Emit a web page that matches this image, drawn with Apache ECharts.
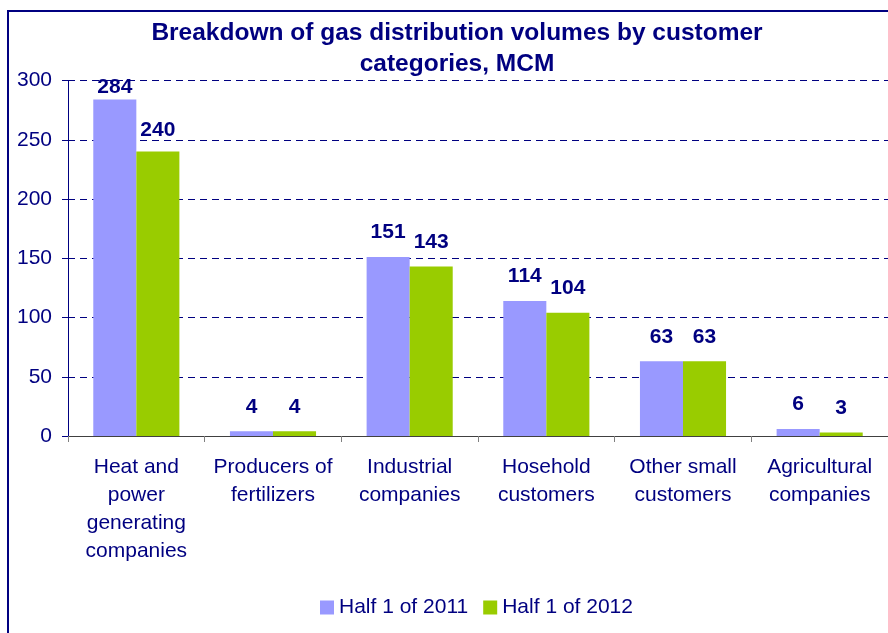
<!DOCTYPE html>
<html>
<head>
<meta charset="utf-8">
<script src="https://cdn.jsdelivr.net/npm/echarts@6/dist/echarts.min.js"></script>
<style>html,body{margin:0;padding:0;background:#fff;}#c{width:888px;height:633px;}</style>
</head>
<body>
<div id="c"></div>
<script>
const categories = ["Heat and\npower\ngenerating\ncompanies", "Producers of\nfertilizers", "Industrial\ncompanies", "Hosehold\ncustomers", "Other small\ncustomers", "Agricultural\ncompanies"];
const seriesNames = ["Half 1 of 2011", "Half 1 of 2012"];
const values2011 = [284, 4, 151, 114, 63, 6];
const values2012 = [240, 4, 143, 104, 63, 3];
const yTicks = [0, 50, 100, 150, 200, 250, 300];

const NAVY = '#000080';
const FONT = 'Liberation Sans, Arial, sans-serif';
const chart = echarts.init(document.getElementById('c'));
const labelCfg = {show: true, position: 'top', distance: 14, color: NAVY, fontFamily: FONT, fontSize: 21, fontWeight: 'bold'};
const yMax = yTicks[yTicks.length - 1];
// labels near the top of the plot are squeezed down (as in the reference)
function withLabels(vals) {
  return vals.map(v => {
    const room = (yMax - v) / yMax * 355.5;
    const d = Math.max(2, Math.min(14, room - 60));
    return {value: v, label: {distance: d}};
  });
}
chart.setOption({
  animation: false,
  backgroundColor: '#fff',
  title: {
    text: 'Breakdown of gas distribution volumes by customer\ncategories, MCM',
    left: 452, top: 13, textAlign: 'center',
    textStyle: {color: NAVY, fontFamily: FONT, fontSize: 24.5, fontWeight: 'bold', lineHeight: 31}
  },
  graphic: [{
    type: 'rect', shape: {x: 8, y: 11, width: 1200, height: 1200},
    style: {fill: 'none', stroke: NAVY, lineWidth: 2}, silent: true, z: 100
  }],
  legend: {
    left: 315, top: 592, itemWidth: 14, itemHeight: 14, itemGap: 15, icon: 'rect',
    textStyle: {color: NAVY, fontFamily: FONT, fontSize: 21},
    data: seriesNames
  },
  grid: {left: 68, right: 0, top: 80.5, bottom: 197, containLabel: false},
  xAxis: {
    type: 'category', data: categories,
    axisLine: {lineStyle: {color: '#404040', width: 1}},
    axisTick: {show: true, length: 6, lineStyle: {color: '#808080'}},
    axisLabel: {interval: 0, color: NAVY, fontFamily: FONT, fontSize: 21, lineHeight: 28, margin: 17}
  },
  yAxis: {
    type: 'value', min: yTicks[0], max: yMax, interval: 50,
    axisLine: {show: true, lineStyle: {color: NAVY, width: 1}},
    axisTick: {show: true, length: 6, lineStyle: {color: NAVY}},
    axisLabel: {color: NAVY, fontFamily: FONT, fontSize: 21, margin: 16},
    splitLine: {show: true, lineStyle: {color: NAVY, type: [7, 5], width: 1}}
  },
  series: [
    {name: seriesNames[0], type: 'bar', data: withLabels(values2011), barGap: '0%', barCategoryGap: '37%',
     itemStyle: {color: '#9999FF'}, label: labelCfg},
    {name: seriesNames[1], type: 'bar', data: withLabels(values2012), barGap: '0%', barCategoryGap: '37%',
     itemStyle: {color: '#99CC00'}, label: labelCfg}
  ]
});
</script>
</body>
</html>
